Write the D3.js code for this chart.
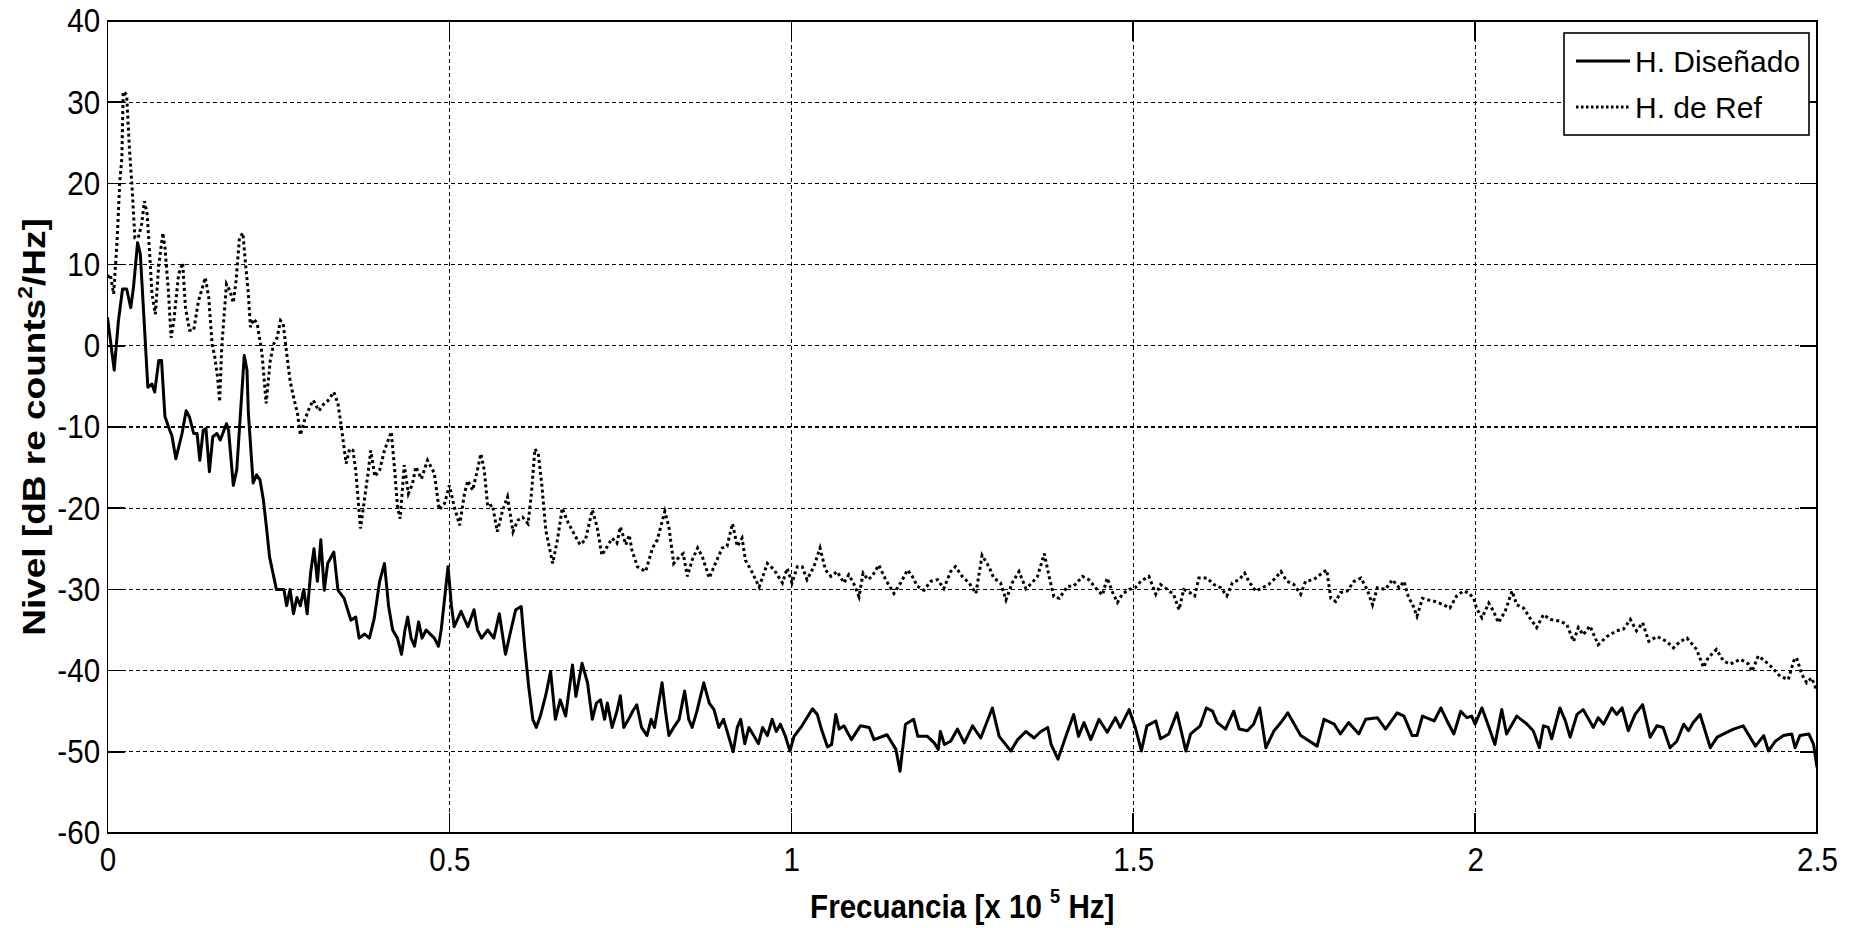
<!DOCTYPE html>
<html>
<head>
<meta charset="utf-8">
<script src="https://cdn.jsdelivr.net/npm/d3@7"></script>
<style>
  body { margin: 0; background: #fff; }
  svg { display: block; font-family: "Liberation Sans", Arial, sans-serif; }
</style>
</head>
<body>
<div id="chart"></div>
<script>
// H. Diseñado (solid)
const disFreq = [0,0.0098,0.016,0.022,0.028,0.034,0.038,0.044,0.048,0.053,0.059,0.065,0.069,0.075,0.079,0.084,0.091,0.094,0.1,0.109,
  0.115,0.12,0.126,0.131,0.135,0.14,0.144,0.149,0.154,0.16,0.165,0.174,0.177,0.184,0.189,0.2,0.204,0.206,0.213,0.218,
  0.223,0.228,0.232,0.237,0.242,0.247,0.252,0.258,0.262,0.267,0.272,0.277,0.282,0.287,0.292,0.297,0.302,0.307,0.312,0.317,
  0.322,0.331,0.337,0.346,0.356,0.363,0.368,0.376,0.383,0.39,0.398,0.405,0.411,0.417,0.424,0.43,0.435,0.439,0.444,0.449,
  0.455,0.46,0.466,0.472,0.478,0.484,0.488,0.498,0.503,0.507,0.517,0.527,0.536,0.541,0.547,0.556,0.565,0.573,0.582,0.59,
  0.597,0.605,0.61,0.616,0.622,0.627,0.633,0.641,0.648,0.655,0.662,0.67,0.68,0.685,0.694,0.702,0.709,0.715,0.721,0.727,
  0.731,0.738,0.745,0.75,0.755,0.762,0.768,0.774,0.781,0.789,0.795,0.8,0.806,0.811,0.816,0.821,0.828,0.836,0.844,0.85,
  0.855,0.862,0.872,0.88,0.887,0.894,0.901,0.908,0.915,0.921,0.926,0.932,0.938,0.945,0.952,0.958,0.965,0.972,0.978,0.984,
  0.991,0.998,1.004,1.014,1.031,1.038,1.044,1.053,1.059,1.065,1.07,1.077,1.088,1.101,1.114,1.121,1.14,1.153,1.159,1.167,
  1.179,1.185,1.199,1.209,1.215,1.218,1.224,1.233,1.243,1.253,1.265,1.277,1.294,1.304,1.321,1.331,1.343,1.355,1.365,1.375,
  1.38,1.39,1.404,1.413,1.42,1.428,1.438,1.45,1.462,1.474,1.481,1.494,1.503,1.512,1.52,1.533,1.54,1.552,1.564,1.577,
  1.584,1.598,1.607,1.616,1.623,1.635,1.647,1.655,1.667,1.676,1.685,1.694,1.706,1.716,1.726,1.745,1.769,1.779,1.794,1.803,
  1.815,1.83,1.84,1.857,1.869,1.886,1.896,1.908,1.915,1.923,1.94,1.95,1.959,1.969,1.979,1.988,1.995,2,2.01,2.017,
  2.029,2.039,2.046,2.061,2.076,2.085,2.094,2.1,2.107,2.112,2.124,2.132,2.139,2.149,2.158,2.173,2.18,2.188,2.2,2.207,
  2.215,2.224,2.234,2.245,2.256,2.266,2.275,2.285,2.295,2.305,2.312,2.319,2.329,2.344,2.354,2.368,2.378,2.392,2.41,2.422,
  2.429,2.439,2.451,2.463,2.468,2.475,2.488,2.495,2.5];
const disLevel = [3.5,-3,3.1,7,7,4.7,7.2,12.7,11.3,3.9,-5.1,-4.7,-5.7,-1.8,-1.8,-8.7,-10.4,-11,-13.9,-10.8,
  -8,-8.8,-10.8,-10.8,-14.1,-10.4,-10.2,-15.5,-11.2,-10.8,-11.6,-9.6,-10.4,-17.2,-15.3,-1.2,-3,-8.3,-16.9,-15.9,
  -16.5,-19,-22,-26,-28,-30,-30,-30,-32,-30,-33,-31,-32,-30,-33,-28,-25,-29,-23.9,-30.1,
  -26.8,-25.4,-30.1,-31.1,-33.8,-33.4,-36,-35.5,-36,-33.6,-29,-26.8,-32,-35,-36,-38,-35,-33.4,-36,-37,
  -34,-36,-35,-35.5,-36,-37,-35,-27.2,-32,-34.6,-32.7,-34.6,-32.5,-35,-36,-35,-36,-33,-38,-35,
  -32.5,-32.1,-37,-42,-46,-47,-45.6,-43,-40.1,-46,-43.6,-45.6,-39.3,-43.2,-39.1,-41.5,-46,-44,-43.6,-46,
  -44,-47,-45,-43.1,-47,-46,-45,-44.2,-47,-48,-46,-47,-44,-41.5,-45,-48,-47,-46,-42.5,-46,
  -47,-45,-41.5,-44,-44.8,-47,-46,-48,-50,-47,-46,-49,-47,-48,-49,-47,-48,-46,-47.5,-46.6,
  -48,-49.9,-48.1,-47,-44.7,-45.4,-47.2,-49.4,-49.1,-45.4,-47.2,-46.8,-48.5,-46.8,-47,-48.5,-47.9,-49.7,-52.4,-46.6,
  -46,-48.1,-48.1,-48.9,-49.7,-47.5,-49.1,-48.7,-47.2,-48.9,-46.8,-48.3,-44.6,-48.1,-49.9,-48.5,-47.5,-48.3,-47.5,-47,
  -49.1,-50.9,-47.5,-45.4,-48.1,-46.4,-48.5,-46,-47.6,-45.8,-47,-44.8,-47,-49.9,-46.8,-46.2,-48.4,-47.8,-45.2,-49.9,
  -47.8,-46.8,-44.6,-45,-46.4,-47.2,-45,-47.2,-47.4,-46.6,-44.6,-49.5,-47.4,-46.4,-45.2,-48,-49.3,-46,-46.6,-47.8,
  -46.4,-47.8,-46,-45.8,-47.2,-45.2,-45.6,-48,-48,-45.6,-46.2,-44.6,-46.2,-47.8,-45,-45.8,-45.6,-46.6,-44.6,-46.2,
  -49.1,-44.8,-47.8,-45.6,-46.6,-47.4,-49.5,-46.8,-47,-48.4,-44.6,-46.2,-48.2,-45.4,-44.8,-47,-45.8,-46.6,-44.6,-45.4,
  -44.6,-47.4,-45.4,-44.2,-48.2,-46.8,-47,-49.5,-48.7,-46.6,-47.4,-46.4,-45.4,-49.5,-48.2,-47.6,-47.2,-46.8,-49.3,-48,
  -49.9,-48.7,-48,-47.8,-49.5,-48,-47.8,-49.1,-51.9];

// H. de Ref (dotted)
const refFreq = [0,0.004,0.009,0.014,0.018,0.021,0.023,0.028,0.032,0.036,0.04,0.045,0.05,0.054,0.058,0.062,0.065,0.07,0.075,0.081,
  0.084,0.089,0.093,0.097,0.104,0.11,0.114,0.12,0.126,0.133,0.143,0.148,0.153,0.157,0.161,0.164,0.167,0.174,0.179,0.184,
  0.188,0.193,0.198,0.201,0.206,0.209,0.214,0.219,0.226,0.232,0.238,0.243,0.248,0.253,0.257,0.261,0.267,0.272,0.278,0.282,
  0.288,0.296,0.301,0.309,0.316,0.322,0.331,0.337,0.342,0.349,0.354,0.359,0.363,0.37,0.375,0.381,0.385,0.391,0.398,0.405,
  0.415,0.42,0.424,0.428,0.434,0.44,0.446,0.451,0.459,0.468,0.478,0.485,0.493,0.5,0.507,0.515,0.522,0.527,0.534,0.541,
  0.546,0.551,0.556,0.563,0.57,0.578,0.585,0.593,0.6,0.607,0.615,0.62,0.625,0.63,0.635,0.641,0.651,0.658,0.665,0.672,
  0.682,0.691,0.699,0.709,0.716,0.723,0.731,0.738,0.745,0.75,0.758,0.763,0.767,0.775,0.787,0.797,0.804,0.815,0.821,0.828,
  0.836,0.842,0.848,0.855,0.863,0.87,0.88,0.889,0.899,0.906,0.914,0.921,0.928,0.933,0.941,0.953,0.965,0.975,0.987,0.994,
  1.001,1.009,1.016,1.023,1.033,1.042,1.05,1.058,1.067,1.077,1.084,1.092,1.099,1.105,1.112,1.118,1.128,1.138,1.15,1.16,
  1.17,1.177,1.184,1.194,1.204,1.214,1.223,1.233,1.24,1.25,1.26,1.27,1.279,1.289,1.296,1.306,1.314,1.323,1.333,1.343,
  1.352,1.36,1.37,1.377,1.384,1.392,1.404,1.413,1.426,1.435,1.448,1.455,1.462,1.47,1.477,1.484,1.494,1.503,1.511,1.523,
  1.533,1.54,1.55,1.559,1.567,1.574,1.583,1.59,1.596,1.608,1.618,1.628,1.637,1.645,1.655,1.663,1.669,1.679,1.689,1.698,
  1.708,1.716,1.725,1.735,1.745,1.752,1.764,1.776,1.783,1.789,1.796,1.803,1.813,1.823,1.833,1.842,1.85,1.857,1.869,1.879,
  1.889,1.896,1.903,1.908,1.915,1.923,1.932,1.942,1.954,1.963,1.973,1.983,1.99,1.998,2.002,2.01,2.02,2.027,2.034,2.044,
  2.054,2.061,2.071,2.08,2.09,2.1,2.11,2.124,2.134,2.144,2.151,2.158,2.168,2.18,2.193,2.207,2.217,2.227,2.236,2.245,
  2.254,2.266,2.28,2.29,2.3,2.31,2.324,2.334,2.341,2.353,2.363,2.373,2.388,2.4,2.405,2.414,2.424,2.434,2.446,2.458,
  2.466,2.47,2.478,2.485,2.492,2.5];
const refLevel = [8.4,8.8,6.4,12.9,20.3,23.1,31.3,30.9,24.4,19.4,13.3,13.3,15,17.8,16.2,10.9,6.4,3.9,10,13.9,
  12.1,6.8,1,3.1,8.8,10.2,4.7,1.9,1.9,5.5,8.4,6,0.2,-1.4,-3.9,-6.9,-0.2,7.6,6.8,5.3,
  8,13.3,13.9,10.9,6.4,2.3,3.3,2.7,-1,-7.1,-1.8,0.2,1,3.1,2.7,-0.2,-4.3,-6.3,-8.4,-11,
  -9.2,-7.5,-6.7,-8,-7.2,-6.8,-5.7,-7.1,-10,-14.5,-12.7,-12.9,-15.3,-22.5,-19.4,-15.7,-12.9,-16.1,-15.3,-12.9,
  -10.6,-15.3,-19.8,-21.3,-14.7,-18.2,-17,-14.9,-16.4,-14.1,-15.7,-20.2,-19.4,-17.2,-19.8,-22.1,-18.2,-16.6,-17.8,-15.3,
  -13.3,-15.3,-19.8,-19.6,-22.9,-20.2,-18.6,-22.9,-21.5,-21.1,-21.9,-18.2,-12.7,-13.3,-17,-22.7,-26.8,-23.9,-20,-21.5,
  -23.1,-24.5,-23.9,-20.2,-22.3,-25.8,-24.7,-23.7,-24.3,-22.3,-24.5,-23.3,-25.2,-27.2,-27.8,-24.9,-23.9,-20.4,-22.3,-26.8,
  -26,-25.6,-28.4,-26.4,-24.9,-26,-28.6,-26.8,-24.9,-24.7,-21.9,-24.7,-23.7,-26.4,-27.6,-29.7,-26.8,-27.6,-29.2,-27.4,
  -29.2,-27.2,-27.2,-28.8,-27.2,-24.9,-27.6,-28.4,-27.8,-29.2,-28.2,-29.4,-30.9,-28,-28.8,-28.4,-27,-28.8,-30.5,-29.2,
  -27.6,-28.4,-29.6,-30.1,-29,-28.8,-29.9,-27.8,-27.2,-28.4,-29.2,-30.5,-25.8,-27.2,-28.6,-29.2,-31.3,-29.2,-27.8,-29.9,
  -29.2,-28.4,-25.6,-28.4,-30.9,-31.1,-29.6,-29.6,-28.4,-28.8,-30.1,-30.7,-28.6,-30.4,-31.6,-30.6,-30,-29.8,-29,-28.4,
  -30.6,-29.4,-30,-30.6,-32.5,-30,-30.4,-30.8,-28.6,-28.6,-29.4,-29.8,-30.8,-29.2,-28.8,-28,-29,-30.2,-29.8,-29.4,
  -28.6,-27.8,-29,-29.4,-30.6,-29,-28.8,-28,-27.6,-31.1,-31.5,-30.4,-30.2,-29,-28.6,-30,-31.9,-29.8,-30,-28.8,
  -29.8,-29,-31.1,-31.7,-33.3,-31.1,-31.3,-31.5,-31.9,-32.3,-30.8,-30.2,-30.4,-31.1,-32.3,-33.5,-31.7,-32.7,-34.1,-32.7,
  -30.2,-31.9,-32.3,-33.5,-34.7,-33.1,-33.7,-33.9,-34.3,-36.4,-34.7,-35.6,-34.5,-36.8,-35.8,-35.1,-34.9,-33.7,-35.1,-34.1,
  -36.4,-35.8,-36.4,-37.2,-36.4,-36,-37.4,-39.6,-38.4,-37.4,-38.8,-39.2,-38.6,-39.2,-40.1,-38.2,-38.8,-39.6,-40.7,-41.1,
  -38.8,-38.4,-40.5,-41.5,-40.9,-42.5];

const xTicks = [0, 0.5, 1, 1.5, 2, 2.5];
const yTicks = [-60, -50, -40, -30, -20, -10, 0, 10, 20, 30, 40];
const seriesNames = ["H. Diseñado", "H. de Ref"];

const width = 1851, height = 928;
const margins = { top: 21, bottom: 95, left: 107.5, right: 34 };
const squeeze = 0.87; // the original picture is narrowed horizontally

const svg = d3.select("#chart").append("svg")
  .attr("width", width)
  .attr("height", height);

const xScale = d3.scaleLinear().domain([0, 2.5]).range([margins.left, width - margins.right]);
const yScale = d3.scaleLinear().domain([-60, 40]).range([height - margins.bottom, margins.top]);

svg.append("clipPath").attr("id", "plot-clip")
  .append("rect")
  .attr("x", xScale(0)).attr("y", yScale(40))
  .attr("width", xScale(2.5) - xScale(0)).attr("height", yScale(-60) - yScale(40));

// grid
const grid = svg.append("g").attr("class", "grid")
  .attr("stroke", "#000").attr("stroke-width", 1.2).attr("stroke-dasharray", "4,3")
  .attr("shape-rendering", "crispEdges");
grid.selectAll(".gy").data(yTicks.slice(1, -1)).join("line")
  .attr("x1", xScale(0)).attr("x2", xScale(2.5))
  .attr("y1", d => yScale(d)).attr("y2", d => yScale(d));
grid.selectAll(".gx").data(xTicks.slice(1, -1)).join("line")
  .attr("y1", yScale(-60)).attr("y2", yScale(40))
  .attr("x1", d => xScale(d)).attr("x2", d => xScale(d));

// series
const line = d3.line().x(d => xScale(d[0])).y(d => yScale(d[1]));
const plot = svg.append("g").attr("clip-path", "url(#plot-clip)");
plot.append("path")
  .datum(refFreq.map((f, i) => [f, refLevel[i]]))
  .attr("d", line)
  .attr("fill", "none").attr("stroke", "#000")
  .attr("stroke-width", 3).attr("stroke-dasharray", "3,3");
plot.append("path")
  .datum(disFreq.map((f, i) => [f, disLevel[i]]))
  .attr("d", line)
  .attr("fill", "none").attr("stroke", "#000")
  .attr("stroke-width", 3).attr("stroke-linejoin", "round");

// box and inner ticks
const ticks = svg.append("g").attr("stroke", "#000").attr("stroke-width", 1.6)
  .attr("shape-rendering", "crispEdges");
ticks.append("rect")
  .attr("x", xScale(0)).attr("y", yScale(40))
  .attr("width", xScale(2.5) - xScale(0)).attr("height", yScale(-60) - yScale(40))
  .attr("fill", "none");
yTicks.forEach(v => {
  ticks.append("line").attr("x1", xScale(0)).attr("x2", xScale(0) + 17).attr("y1", yScale(v)).attr("y2", yScale(v));
  ticks.append("line").attr("x1", xScale(2.5) - 17).attr("x2", xScale(2.5)).attr("y1", yScale(v)).attr("y2", yScale(v));
});
xTicks.forEach(v => {
  ticks.append("line").attr("x1", xScale(v)).attr("x2", xScale(v)).attr("y1", yScale(-60)).attr("y2", yScale(-60) - 20);
  ticks.append("line").attr("x1", xScale(v)).attr("x2", xScale(v)).attr("y1", yScale(40)).attr("y2", yScale(40) + 20);
});

// tick labels
const xAxis = d3.axisBottom(xScale).tickValues(xTicks).tickFormat(d => String(d)).tickSize(0).tickPadding(14);
const yAxis = d3.axisLeft(yScale).tickValues(yTicks).tickFormat(d => String(d)).tickSize(0).tickPadding(8.5);

svg.append("g").attr("class", "axis x-axis")
  .attr("transform", `translate(0,${yScale(-60)})`)
  .call(xAxis)
  .call(g => g.select(".domain").remove());
svg.append("g").attr("class", "axis y-axis")
  .attr("transform", `translate(${xScale(0)},0)`)
  .call(yAxis)
  .call(g => g.select(".domain").remove());
svg.selectAll(".axis text")
  .attr("font-size", 34).attr("fill", "#000")
  .attr("font-family", "'Liberation Sans', Arial, sans-serif")
  .attr("transform", `scale(${squeeze},1)`);

// axis titles
const cx = (xScale(0) + xScale(2.5)) / 2;
const xLabel = svg.append("text")
  .attr("transform", `translate(${cx},918) scale(${squeeze},1)`)
  .attr("text-anchor", "middle")
  .attr("font-size", 34).attr("font-weight", "bold");
xLabel.append("tspan").text("Frecuancia [x 10 ");
xLabel.append("tspan").attr("font-size", 21).attr("dy", -15).text("5");
xLabel.append("tspan").attr("dy", 15).text(" Hz]");

const cy = (yScale(40) + yScale(-60)) / 2;
const yLabel = svg.append("text")
  .attr("transform", `translate(45,${cy}) scale(${squeeze},1) rotate(-90)`)
  .attr("text-anchor", "middle")
  .attr("font-size", 37).attr("font-weight", "bold");
yLabel.append("tspan").text("Nivel [dB re counts");
yLabel.append("tspan").attr("font-size", 23).attr("dy", -15).text("2");
yLabel.append("tspan").attr("dy", 15).text("/Hz]");

// legend
const legend = svg.append("g").attr("class", "legend");
legend.append("rect")
  .attr("x", 1564).attr("y", 33).attr("width", 245).attr("height", 102)
  .attr("fill", "#fff").attr("stroke", "#000").attr("stroke-width", 1.6);
const legendRows = legend.selectAll(".row").data(seriesNames).join("g")
  .attr("transform", (d, i) => `translate(1576,${61 + i * 46})`);
legendRows.append("line")
  .attr("x1", 0).attr("x2", 54)
  .attr("stroke", "#000").attr("stroke-width", 3)
  .attr("stroke-dasharray", (d, i) => i === 1 ? "2.5,2.5" : null);
legendRows.append("text")
  .attr("x", 59).attr("y", 11)
  .attr("font-size", 30)
  .text(d => d);
</script>
</body>
</html>
